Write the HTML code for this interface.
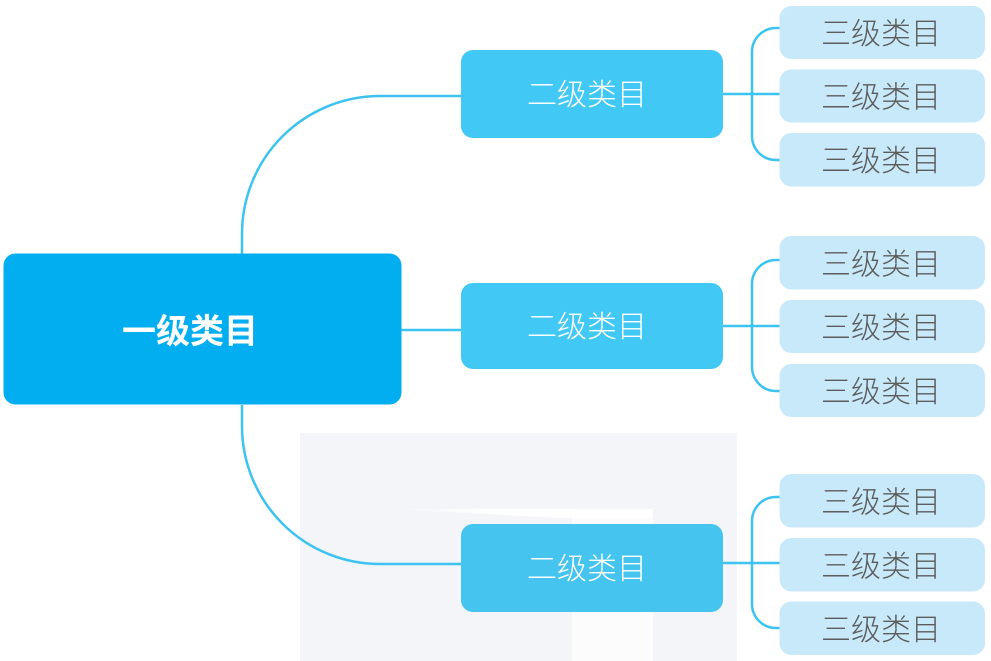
<!DOCTYPE html>
<html><head><meta charset="utf-8"><style>
html,body{margin:0;padding:0;background:#fff;}
svg{display:block;}
text{font-family:"Liberation Sans","Noto Sans CJK SC",sans-serif;}
</style></head><body>
<svg width="991" height="661" viewBox="0 0 991 661" xmlns="http://www.w3.org/2000/svg">
<defs>
<linearGradient id="wg" x1="0" x2="1" y1="0" y2="0">
<stop offset="0" stop-color="#fff" stop-opacity="0"/>
<stop offset="0.35" stop-color="#fff" stop-opacity="0.9"/>
<stop offset="1" stop-color="#fff" stop-opacity="1"/>
</linearGradient>
</defs>
<!-- watermark -->
<rect x="300" y="433" width="437" height="228" fill="#f3f5f9"/>
<rect x="572" y="509" width="81" height="152" fill="#fcfcfd"/>
<polygon points="390,509 653,509 653,518 560,518" fill="url(#wg)"/>

<!-- connectors -->
<g fill="none" stroke="#3cc3f0" stroke-width="2.5">
<path d="M242,254 L242,234 A138,138 0 0 1 380,96 L461,96"/>
<path d="M242,405 L242,426 A138,138 0 0 0 380,564 L461,564"/>
<path d="M401,330 L461,330"/>
<path d="M722,94 L780,94"/>
<path d="M722,326 L780,326"/>
<path d="M722,563 L780,563"/>
<path d="M780,28 L776,28 A24,24 0 0 0 752,52 L752,136 A24,24 0 0 0 776,160 L780,160"/>
<path d="M780,260 L776,260 A24,24 0 0 0 752,284 L752,367 A24,24 0 0 0 776,391 L780,391"/>
<path d="M780,497 L776,497 A24,24 0 0 0 752,521 L752,604 A24,24 0 0 0 776,628 L780,628"/>
</g>

<!-- root -->
<rect x="3.5" y="253.5" width="398" height="151" rx="12" fill="#02aeef"/>
<text x="190" y="343" font-size="34" font-weight="bold" fill="#fff" text-anchor="middle">一级类目</text>

<!-- level 2 -->
<rect x="461" y="50" width="262" height="88" rx="12" fill="#42c8f4"/>
<rect x="461" y="283" width="262" height="86" rx="12" fill="#42c8f4"/>
<rect x="461" y="524" width="262" height="88" rx="12" fill="#3fc2ee" fill-opacity="0.97"/>
<g font-size="30" font-weight="300" fill="#fff" text-anchor="middle">
<text x="587" y="105">二级类目</text>
<text x="587" y="337">二级类目</text>
<text x="587" y="579">二级类目</text>
</g>

<!-- level 3 -->
<g fill="#c7e9f9">
<rect x="779.5" y="6" width="205.5" height="53" rx="12"/>
<rect x="779.5" y="69.5" width="205.5" height="53" rx="12"/>
<rect x="779.5" y="133" width="205.5" height="53.5" rx="12"/>
<rect x="779.5" y="236" width="205.5" height="53.5" rx="12"/>
<rect x="779.5" y="300" width="205.5" height="53" rx="12"/>
<rect x="779.5" y="364" width="205.5" height="53" rx="12"/>
<rect x="779.5" y="474" width="205.5" height="53.5" rx="12"/>
<rect x="779.5" y="538" width="205.5" height="53.5" rx="12"/>
<rect x="779.5" y="601.5" width="205.5" height="53.5" rx="12"/>
</g>
<g font-size="30" font-weight="300" fill="#5c5c5c" text-anchor="middle">
<text x="881" y="44">三级类目</text>
<text x="881" y="107.5">三级类目</text>
<text x="881" y="171">三级类目</text>
<text x="881" y="274.5">三级类目</text>
<text x="881" y="338">三级类目</text>
<text x="881" y="402">三级类目</text>
<text x="881" y="512.5">三级类目</text>
<text x="881" y="576.5">三级类目</text>
<text x="881" y="640">三级类目</text>
</g>
</svg>
</body></html>
